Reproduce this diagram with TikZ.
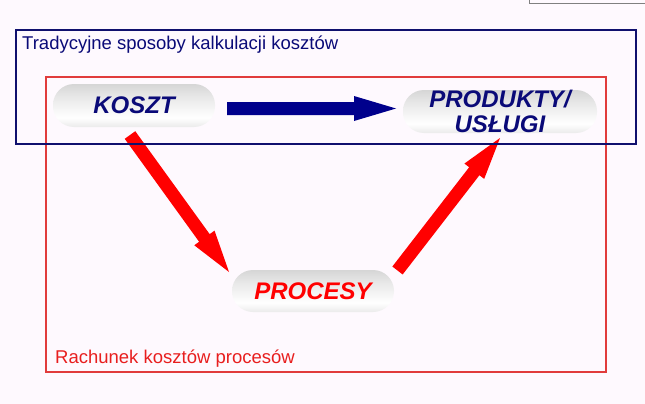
\documentclass[tikz,border=0pt]{standalone}
\usepackage{fontspec}
\setmainfont{Liberation Sans}
\usetikzlibrary{calc}
\definecolor{bgcol}{RGB}{254,249,254}
\definecolor{navyrect}{RGB}{16,16,110}
\definecolor{navytext}{RGB}{10,10,120}
\definecolor{navyarrow}{RGB}{0,0,140}
\definecolor{redrect}{RGB}{225,60,60}
\definecolor{redtext}{RGB}{232,30,30}
\definecolor{redarrow}{RGB}{255,0,0}
\pgfdeclareverticalshading{pillshade}{100bp}{color(0bp)=(black!24); color(22bp)=(black!10); color(36bp)=(white); color(60bp)=(black!9); color(100bp)=(black!28)}
\tikzset{
  pill/.style={rectangle, rounded corners=21pt, shading=pillshade, inner sep=0pt,
    font=\fontsize{24pt}{25pt}\selectfont\bfseries\itshape, align=center},
  lbl/.style={inner sep=0pt, font=\fontsize{18.5pt}{20pt}\selectfont},
}
\newcommand\fatarrow[4]{%
  \path ($(#3)!42pt!(#2)$) coordinate (#4h);
  \fill[#1] ($(#2)!6.5pt!90:(#3)$) -- ($(#4h)!6.5pt!90:(#3)$) -- ($(#4h)!12.5pt!90:(#3)$) -- (#3)
    -- ($(#4h)!12.5pt!-90:(#3)$) -- ($(#4h)!6.5pt!-90:(#3)$) -- ($(#2)!6.5pt!-90:(#3)$) -- cycle;}
\begin{document}
\begin{tikzpicture}[x=1pt,y=-1pt]
\useasboundingbox (0,0) rectangle (645,404);
\fill[bgcol] (0,0) rectangle (645,404);
% partial grey box at top right
\draw[black!50, line width=1pt] (529,0) -- (529,4) -- (645,4);
% red frame
\draw[redrect, line width=1.5pt] (46,77) rectangle (606,372);
% pills
\node[pill, minimum width=162pt, minimum height=43pt, text=navytext] (k) at (134,105.5) {KOSZT};
\node[pill, minimum width=194pt, minimum height=43pt, text=navytext] (p) at (500,111.5) {PRODUKTY/\\USŁUGI};
\node[pill, minimum width=162pt, minimum height=42pt, text=redarrow] (c) at (313,291) {PROCESY};
% arrow end points
\coordinate (a1) at (227,108.5);
\coordinate (b1) at (396,108.5);
\coordinate (a2) at (130,135);
\coordinate (b2) at (229,272);
\coordinate (a3) at (397.5,270.5);
\coordinate (b3) at (500,138);
\fatarrow{navyarrow}{a1}{b1}{ar1}
\fatarrow{redarrow}{a2}{b2}{ar2}
\fatarrow{redarrow}{a3}{b3}{ar3}
% blue frame
\draw[navyrect, line width=2pt] (16,30) rectangle (636,144);
% labels
\node[lbl, anchor=base west, text=navytext] (t1) at (22,50) {Tradycyjne sposoby kalkulacji kosztów};
\node[lbl, anchor=base west, text=redtext] (t2) at (55,363) {Rachunek kosztów procesów};
\end{tikzpicture}
\end{document}
